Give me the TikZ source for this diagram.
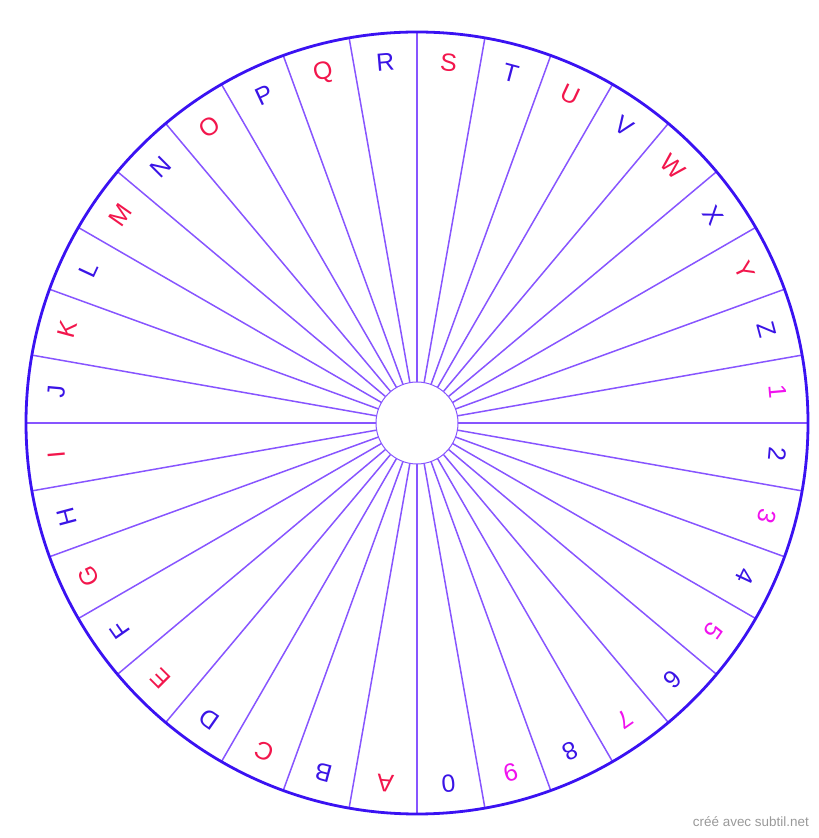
\documentclass[tikz,border=0pt]{standalone}
\usepackage{fontspec}
\setmainfont{Liberation Sans}
\usetikzlibrary{calc}
\definecolor{rimblue}{HTML}{3A12F2}
\definecolor{spokeviolet}{HTML}{8755FF}
\definecolor{letred}{HTML}{F2164C}
\definecolor{letblue}{HTML}{3A14E6}
\definecolor{digmag}{HTML}{F012EE}

\begin{document}
\begin{tikzpicture}[x=1bp,y=1bp]
  \useasboundingbox (0,0) rectangle (819,838);
  \coordinate (c) at (417,415);
  % spokes
  \foreach \a in {0,10,...,350}
  {
    \draw[spokeviolet,line width=1.5bp] (c) ++(\a:41) -- ++(\a:350);
  }
  \draw[rimblue,line width=2.8bp] (c) circle (391);
  \draw[spokeviolet,line width=1bp,fill=white] (c) circle (41);
  % letters, A at the bottom, going clockwise
  \foreach \t/\col [count=\i from 0] in {A/letred,B/letblue,C/letred,D/letblue,E/letred,F/letblue,G/letred,H/letblue,I/letred,J/letblue,K/letred,L/letblue,M/letred,N/letblue,O/letred,P/letblue,Q/letred,R/letblue,S/letred,T/letblue,U/letred,V/letblue,W/letred,X/letblue,Y/letred,Z/letblue}
  {
    \node[text=\col,inner sep=0pt,rotate=175-10*\i,font=\fontsize{25}{25}\selectfont]
      (let-\t) at ($(c)+(265-10*\i:362)$) {\t};
  }
  % digits
  \foreach \t/\col [count=\i from 1] in {1/digmag,2/letblue,3/digmag,4/letblue,5/digmag,6/letblue,7/digmag,8/letblue,9/digmag,0/letblue}
  {
    \node[text=\col,inner sep=0pt,rotate=-75-10*\i,font=\fontsize{25}{25}\selectfont]
      (dig-\t) at ($(c)+(15-10*\i:362)$) {\t};
  }
  \node[anchor=base east,text=black!40,inner sep=0pt,font=\fontsize{13.5}{13.5}\selectfont]
    (credit) at (809,11) {créé avec subtil.net};
\end{tikzpicture}
\end{document}
